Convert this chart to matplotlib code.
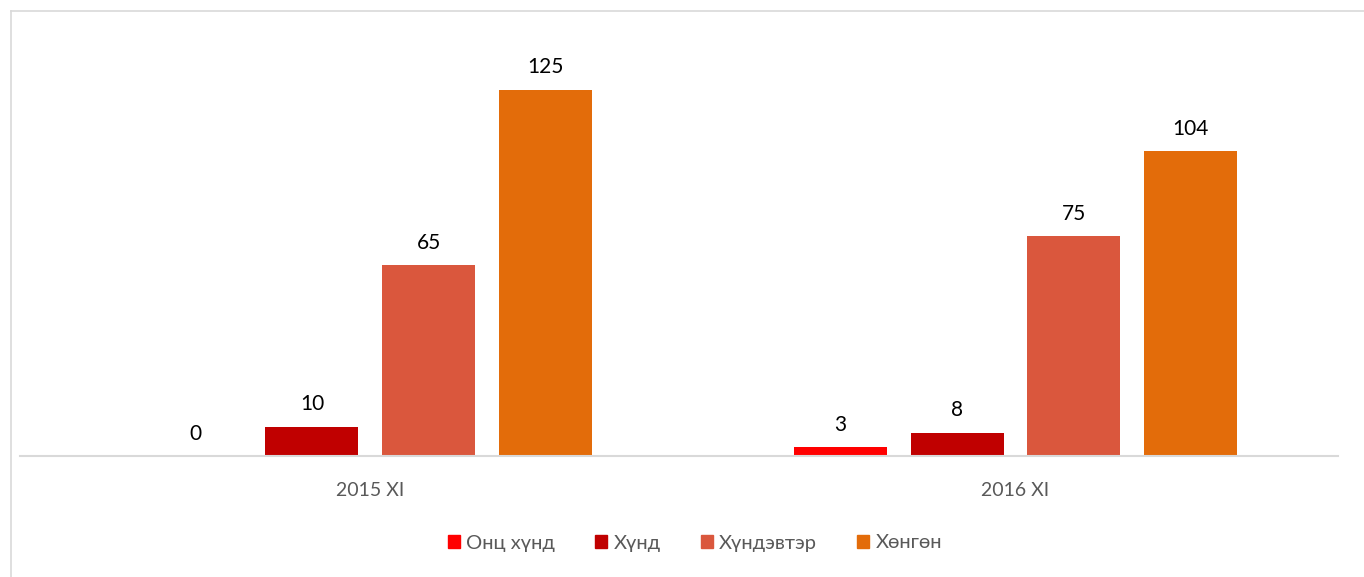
import numpy as np
import matplotlib.pyplot as plt
from matplotlib.patches import Patch

plt.rcParams['font.family'] = ['Lato', 'DejaVu Sans']

categories = ['2015 XI', '2016 XI']
series = ['Онц хүнд', 'Хүнд', 'Хүндэвтэр', 'Хөнгөн']
values = [[0, 3], [10, 8], [65, 75], [125, 104]]
colors = ['#FF0000', '#C00000', '#DA573D', '#E36C0A']

W, H = 1364, 577
fig = plt.figure(figsize=(W / 100, H / 100), dpi=100)
# axes placed in pixel terms
left, right, base, top = 20, 1338, 456, 31
ax = fig.add_axes([left / W, (H - base) / H, (right - left) / W, (base - top) / H])

x = np.arange(len(categories))
width = 0.144
step = 0.181
for i, (name, vals) in enumerate(zip(series, values)):
    pos = x + (i - 1.5) * step
    bars = ax.bar(pos, vals, width, color=colors[i], label=name)
    for b, v in zip(bars, vals):
        ax.annotate(str(v), (b.get_x() + b.get_width() / 2, v), xytext=(0, 9),
                    textcoords='offset points', ha='center', va='bottom',
                    fontsize=15, color='black')

ax.set_xlim(-0.543, 1.50)
ax.set_ylim(0, 145)
ax.set_yticks([])
ax.set_xticks(x)
ax.set_xticklabels(categories, fontsize=14, color='#595959')
ax.tick_params(axis='x', length=0, pad=19)
for s in ['top', 'left', 'right']:
    ax.spines[s].set_visible(False)
ax.spines['bottom'].set_color('#D9D9D9')
ax.spines['bottom'].set_linewidth(1.5)

handles = [Patch(color=c, label=s) for c, s in zip(colors, series)]
fig.legend(handles=handles, loc='center', bbox_to_anchor=(695 / W, 1 - 543 / H),
           ncol=4, frameon=False, fontsize=14.5, handlelength=0.6, handleheight=0.6,
           handletextpad=0.3, columnspacing=2.0, labelcolor='#595959')

# outer chart border (only top/left visible in the crop)
fig.add_artist(plt.Line2D([11 / W, 11 / W], [0, 1 - 11 / H], transform=fig.transFigure,
                          color='#D9D9D9', lw=1.2))
fig.add_artist(plt.Line2D([11 / W, 1], [1 - 11 / H, 1 - 11 / H], transform=fig.transFigure,
                          color='#D9D9D9', lw=1.2))

fig.savefig('out.png', dpi=100)
